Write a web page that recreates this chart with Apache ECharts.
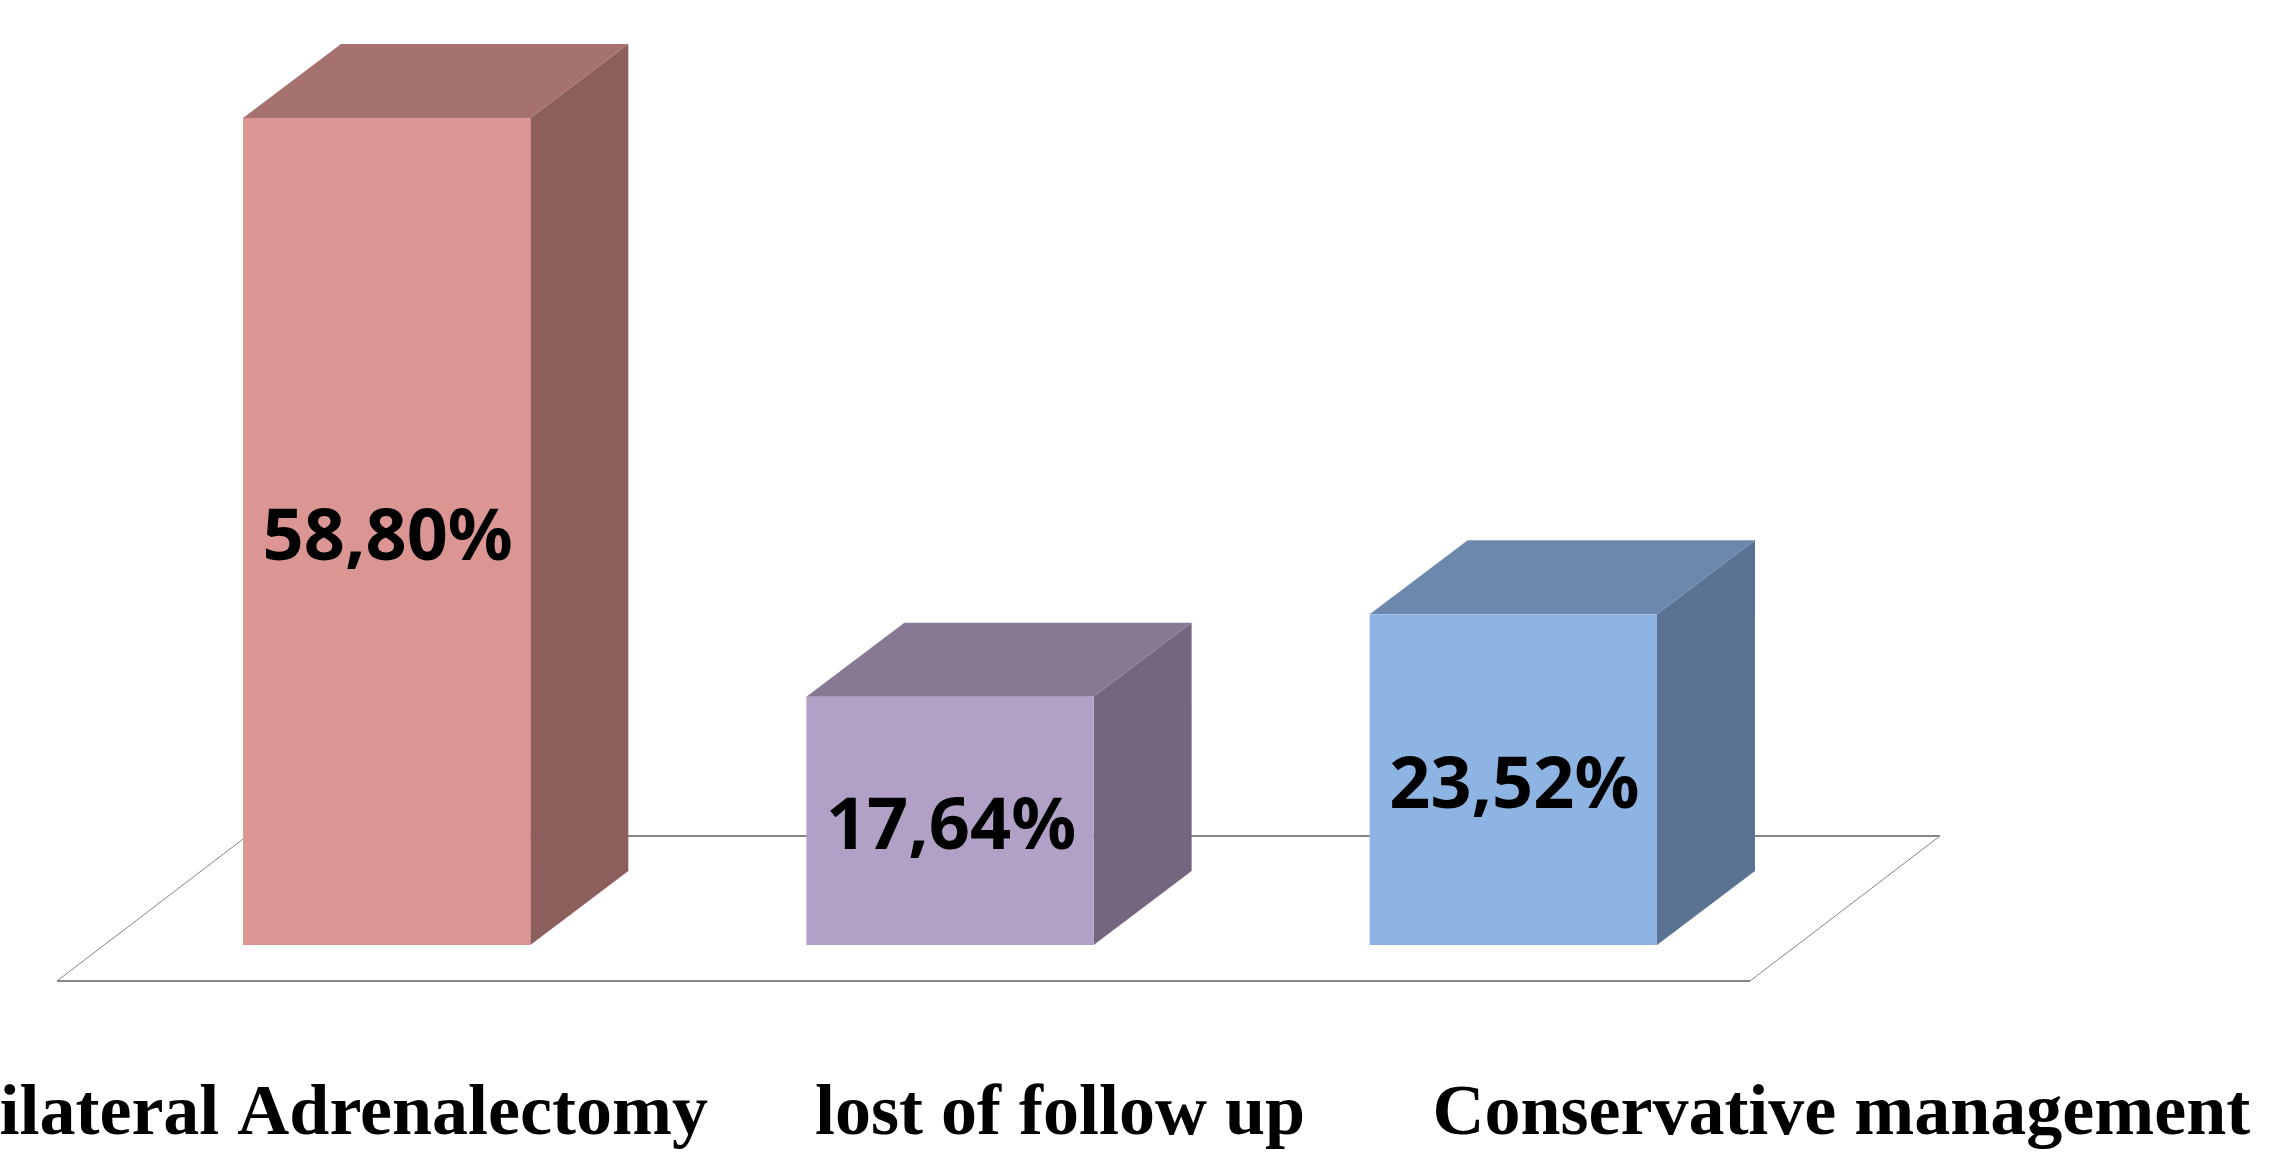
<!DOCTYPE html>
<html>
<head>
<meta charset="utf-8">
<title>Treatment outcome</title>
<style>
  html, body { margin: 0; padding: 0; background: #fff; }
  #main { width: 2275px; height: 1154px; }
</style>
<script src="https://cdn.jsdelivr.net/npm/echarts@6/dist/echarts.min.js"></script>
</head>
<body>
<div id="main"></div>
<script>
// values
const categories = ['Bilateral Adrenalectomy', 'lost of follow up', 'Conservative management'];
const values = [58.80, 17.64, 23.52];

// front, top and side colour of each box
const frontColors = ['#DB9694', '#B2A1C7', '#8EB4E3'];
const topColors = ['#A57270', '#887894', '#6C88AC'];
const sideColors = ['#8C5E5C', '#75667F', '#5B7392'];

// the category captions do not sit under their boxes in the original
const captionShift = [-57, 110, 328];

const depthX = 98;
const depthY = -74;

function renderFloor(params, api) {
  const origin = api.coord([0, 0]);
  const band = api.size([1, 0])[0];
  const left = origin[0] - band / 2 - 48;
  const right = left + band * 3 + 3;
  const front = origin[1] + 36;
  const back = front - 145;
  const dx = 190;
  const line = { stroke: '#868686', fill: null };
  return {
    type: 'group',
    children: [
      { type: 'polyline', shape: { points: [[left, front], [right, front]] }, style: { ...line, lineWidth: 2 } },
      { type: 'polyline', shape: { points: [[left + dx, back], [right + dx, back]] }, style: { ...line, lineWidth: 2 } },
      { type: 'polyline', shape: { points: [[left, front], [left + dx, back]] }, style: { ...line, lineWidth: 1 } },
      { type: 'polyline', shape: { points: [[right, front], [right + dx, back]] }, style: { ...line, lineWidth: 1 } }
    ]
  };
}

function renderBox(params, api) {
  const i = params.dataIndex;
  const top = api.coord([i, api.value(1)]);
  const base = api.coord([i, 0]);
  const w = api.size([1, 0])[0] * 0.51;
  const x0 = top[0] - w / 2;
  const x1 = top[0] + w / 2;
  const label = values[i].toFixed(2).replace('.', ',') + '%';
  return {
    type: 'group',
    children: [
      {
        type: 'polygon',
        shape: { points: [[x1, top[1]], [x1 + depthX, top[1] + depthY], [x1 + depthX, base[1] + depthY], [x1, base[1]]] },
        style: { fill: sideColors[i] }
      },
      {
        type: 'polygon',
        shape: { points: [[x0, top[1]], [x0 + depthX, top[1] + depthY], [x1 + depthX, top[1] + depthY], [x1, top[1]]] },
        style: { fill: topColors[i] }
      },
      {
        type: 'rect',
        shape: { x: x0, y: top[1], width: w, height: base[1] - top[1] },
        style: { fill: frontColors[i] }
      },
      {
        type: 'text',
        style: {
          x: top[0] + 1,
          y: (top[1] + base[1]) / 2 + 8,
          text: label,
          align: 'center',
          verticalAlign: 'middle',
          fill: '#000',
          font: 'bold 72px "Noto Sans"'
        }
      },
      {
        type: 'text',
        style: {
          x: top[0] + captionShift[i],
          y: 1115,
          text: categories[i],
          align: 'center',
          verticalAlign: 'middle',
          fill: '#000',
          font: 'bold 72px "Liberation Serif"'
        }
      }
    ]
  };
}

const chart = echarts.init(document.getElementById('main'));
chart.setOption({
  animation: false,
  backgroundColor: '#fff',
  grid: { left: 105, top: 101, width: 1690, height: 844 },
  xAxis: { type: 'category', data: categories, show: false },
  yAxis: { type: 'value', min: 0, max: 60, show: false },
  series: [
    { type: 'custom', data: [[0, 0]], renderItem: renderFloor, silent: true },
    { type: 'custom', data: values.map((v, i) => [i, v]), encode: { x: 0, y: 1 }, renderItem: renderBox }
  ]
});
</script>
</body>
</html>
